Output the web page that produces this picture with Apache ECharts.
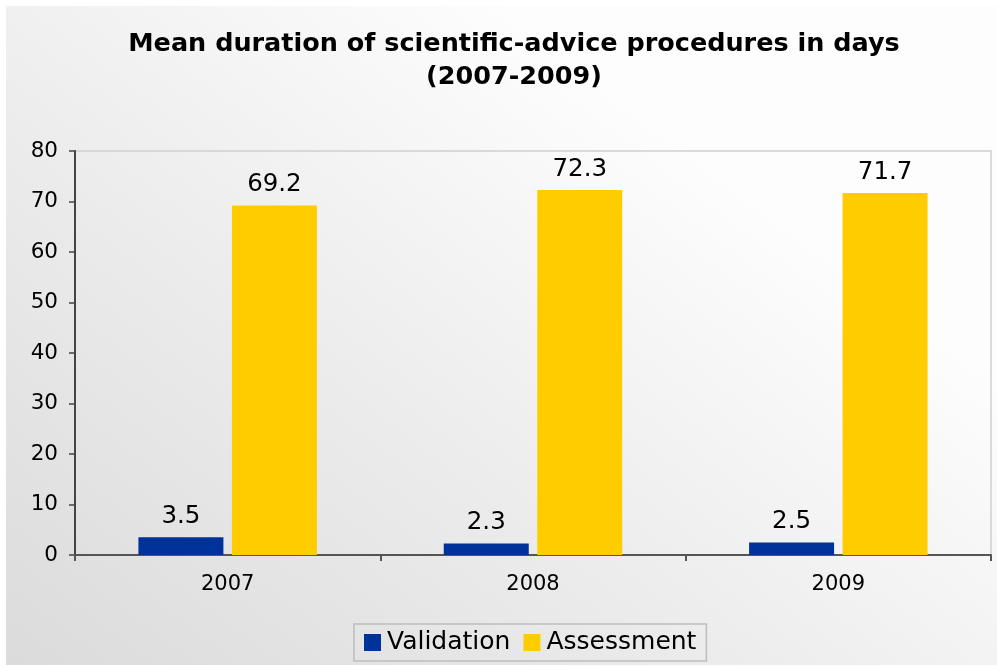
<!DOCTYPE html>
<html>
<head>
<meta charset="utf-8">
<script src="https://cdn.jsdelivr.net/npm/echarts@6/dist/echarts.min.js"></script>
<style>
html, body { margin: 0; padding: 0; background: #fff; }
#chart { position: absolute; left: 6px; top: 6px; width: 991px; height: 659px; }
</style>
</head>
<body>
<div id="chart"></div>
<script>
var years = ['2007', '2008', '2009'];
var validation = [3.5, 2.3, 2.5];
var assessment = [69.2, 72.3, 71.7];
var yTicks = { min: 0, max: 80, interval: 10 };

var myChart = echarts.init(document.getElementById('chart'));
var font = 'DejaVu Sans, Verdana, sans-serif';

var option = {
  animation: false,
  backgroundColor: {
    type: 'linear', x: 0, y: 1, x2: 0.5, y2: 0,
    colorStops: [
      { offset: 0, color: '#dbdbdb' },
      { offset: 0.5, color: '#ebebeb' },
      { offset: 1, color: '#fdfdfd' }
    ]
  },
  title: {
    text: 'Mean duration of scientific-advice procedures in days\n(2007-2009)',
    left: 503,
    top: 17,
    textAlign: 'center',
    textStyle: {
      fontFamily: font,
      fontWeight: 'bold',
      fontSize: 25.5,
      lineHeight: 33,
      color: '#000'
    }
  },
  legend: {
    left: 348,
    top: 618,
    data: ['Validation', 'Assessment'],
    itemWidth: 17,
    itemHeight: 17,
    itemGap: 13,
    padding: [6, 10, 6, 10],
    borderColor: '#bdbdbd',
    borderWidth: 1.5,
    icon: 'rect',
    textStyle: { fontFamily: font, fontSize: 25, color: '#000', padding: [2, 0, 0, 1] }
  },
  grid: {
    left: 69,
    right: 6,
    top: 145,
    bottom: 110,
    show: true,
    borderColor: '#cfcfcf',
    borderWidth: 1.5,
    backgroundColor: 'transparent'
  },
  xAxis: {
    type: 'category',
    data: years,
    axisLine: { lineStyle: { color: '#555', width: 2 } },
    axisTick: { show: true, length: 6, lineStyle: { color: '#555', width: 2 } },
    axisLabel: { fontFamily: font, fontSize: 21, color: '#000', margin: 19 }
  },
  yAxis: {
    type: 'value',
    min: yTicks.min,
    max: yTicks.max,
    interval: yTicks.interval,
    axisLine: { show: true, lineStyle: { color: '#444', width: 2 } },
    axisTick: { show: true, length: 6, lineStyle: { color: '#444', width: 1.5 } },
    splitLine: { show: false },
    axisLabel: { fontFamily: font, fontSize: 21.5, color: '#000', margin: 17 }
  },
  series: [
    {
      name: 'Validation',
      type: 'bar',
      data: validation,
      barWidth: 85,
      barGap: '10%',
      itemStyle: { color: '#003399' },
      label: { show: true, position: 'top', distance: 8, fontFamily: font, fontSize: 24.5, color: '#000' }
    },
    {
      name: 'Assessment',
      type: 'bar',
      data: assessment,
      barWidth: 85,
      itemStyle: { color: '#ffcc00' },
      label: { show: true, position: 'top', distance: 8, fontFamily: font, fontSize: 24.5, color: '#000' }
    }
  ]
};
myChart.setOption(option);

window.addEventListener('resize', function () {
  myChart.resize();
});
</script>
</body>
</html>
